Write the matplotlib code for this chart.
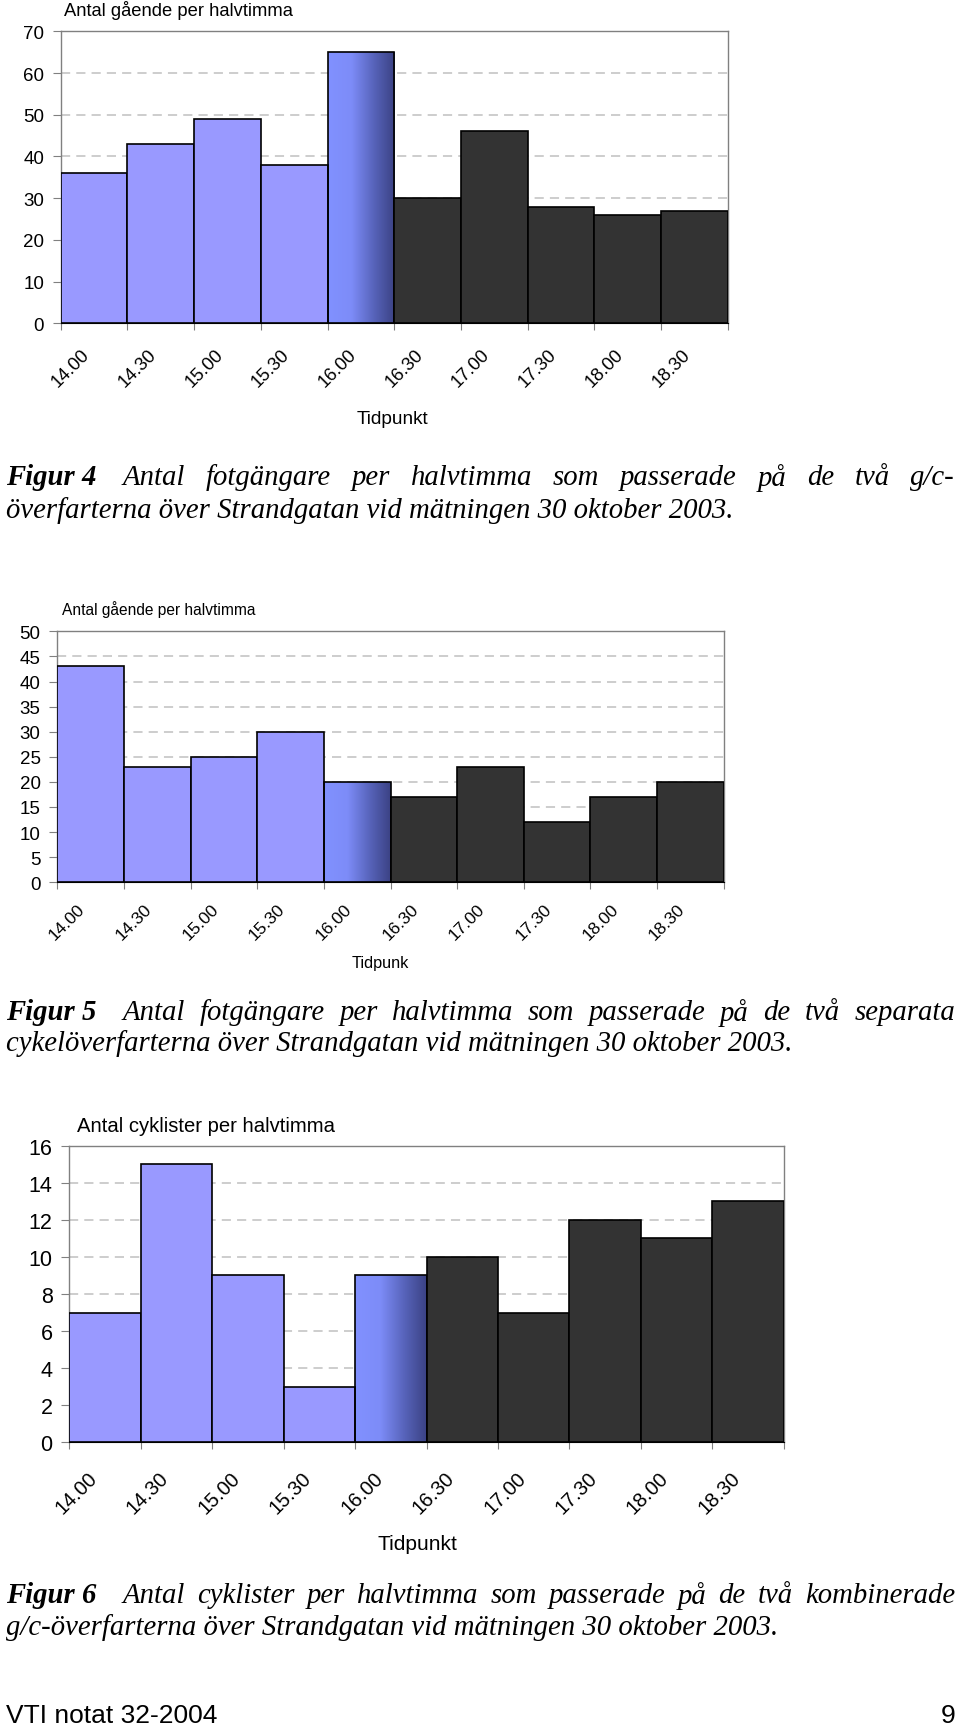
import matplotlib
matplotlib.use("Agg")
import numpy as np
import matplotlib.pyplot as plt
import matplotlib.transforms as mtransforms
from matplotlib.colors import LinearSegmentedColormap

# data
tider = ["14.00", "14.30", "15.00", "15.30", "16.00",
         "16.30", "17.00", "17.30", "18.00", "18.30"]
gc_gaende = [36, 43, 49, 38, 65, 30, 46, 28, 26, 27]
sep_gaende = [43, 23, 25, 30, 20, 17, 23, 12, 17, 20]
cyklister = [7, 15, 9, 3, 9, 10, 7, 12, 11, 13]

W, H = 960, 1731
LJUS = "#9999ff"
MORK = "#333333"
GRA = "#808080"
grad_cmap = LinearSegmentedColormap.from_list(
    "grad", [(0, "#8191ff"), (0.35, "#7d8cf8"), (0.7, "#5662b8"), (1, "#3b4284")])

SANS = "Liberation Sans"
SERIF = "Liberation Serif"

fig = plt.figure(figsize=(W / 100, H / 100), dpi=100)


def box(l, t, r, b):
    return [l / W, 1 - b / H, (r - l) / W, (b - t) / H]


def chart(rect, vals, ymax, ystep, ylab, xlab, fs_tick, fs_lab, fs_x, xpad, xskift,
          lab_pos, xlab_pos):
    ax = fig.add_axes(box(*rect))
    n = len(vals)
    x = np.arange(n)
    farger = [LJUS] * 4 + ["none"] + [MORK] * 5
    bars = ax.bar(x, vals, width=1.0, color=farger, edgecolor="black",
                  linewidth=1.2, zorder=3)
    # gradient bar (16.00)
    p = bars[4]
    grad = np.linspace(0, 1, 200).reshape(1, -1)
    im = ax.imshow(grad, extent=[p.get_x(), p.get_x() + p.get_width(), 0, p.get_height()],
                   aspect="auto", cmap=grad_cmap, zorder=2.5)
    im.set_clip_path(p)
    ax.set_xlim(-0.5, n - 0.5)
    ax.set_ylim(0, ymax)
    ax.set_yticks(np.arange(0, ymax + 0.1, ystep))
    ax.yaxis.grid(True, color="#c0c0c0", linestyle=(0, (6, 4)), linewidth=1.1, zorder=0)
    ax.set_axisbelow(True)
    ax.set_xticks(np.arange(-0.5, n, 1.0))
    ax.set_xticklabels([])
    ax.set_xticks(x, minor=True)
    ax.set_xticklabels(tider, minor=True, rotation=45, ha="right", va="center",
                       rotation_mode="anchor", fontsize=fs_x, family=SANS)
    ax.tick_params(axis="x", which="minor", length=0, pad=xpad)
    skift = mtransforms.ScaledTranslation(-xskift / 100, 0, fig.dpi_scale_trans)
    for lb in ax.get_xticklabels(minor=True):
        lb.set_transform(lb.get_transform() + skift)
    ax.tick_params(axis="x", which="major", length=5, color=GRA, width=0.8)
    ax.tick_params(axis="y", length=6, color=GRA, width=0.8, pad=6, labelsize=fs_tick)
    for lb in ax.get_yticklabels():
        lb.set_family(SANS)
    for s in ["left", "top", "right"]:
        ax.spines[s].set_color(GRA)
        ax.spines[s].set_linewidth(1.0)
    ax.spines["bottom"].set_color("black")
    fig.text(lab_pos[0] / W, 1 - lab_pos[1] / H, ylab, fontsize=fs_lab, family=SANS,
             ha="left", va="center")
    fig.text(xlab_pos[0] / W, 1 - xlab_pos[1] / H, xlab, fontsize=fs_lab + 0.5,
             family=SANS, ha="center", va="center")
    return ax


def caption(y1, y2, head, rad1, rad2, fs=20.7):
    r = fig.canvas.get_renderer()
    x0, tab, x1 = 6, 123, 955
    fig.text(x0 / W, 1 - y1 / H, head, fontsize=fs, family=SERIF, style="italic",
             weight="bold", ha="left", va="center")
    ord_ = rad1.split()
    texter = [fig.text(0, 1 - y1 / H, o, fontsize=fs, family=SERIF, style="italic",
                       ha="left", va="center") for o in ord_]
    bredd = [t.get_window_extent(r).width for t in texter]
    gap = (x1 - tab - sum(bredd)) / (len(ord_) - 1)
    xp = tab
    for t, b in zip(texter, bredd):
        t.set_x(xp / W)
        xp += b + gap
    fig.text(x0 / W, 1 - y2 / H, rad2, fontsize=fs, family=SERIF, style="italic",
             ha="left", va="center")


chart((60.7, 32.3, 727.7, 324.3), gc_gaende, 70, 10,
      "Antal gående per halvtimma", "Tidpunkt", 13.5, 13.2, 13.2, 20, 7,
      (64, 10), (392, 420))
chart((57.3, 632.3, 723.7, 883.3), sep_gaende, 50, 5,
      "Antal gående per halvtimma", "Tidpunk", 13.5, 11.2, 12.5, 17, 8,
      (62, 610), (380, 964))
chart((69.3, 1146.7, 783.7, 1443.3), cyklister, 16, 2,
      "Antal cyklister per halvtimma", "Tidpunkt", 15.5, 14.6, 14.5, 23, 11,
      (77, 1127), (417, 1545))

caption(478, 511, "Figur 4",
        "Antal fotgängare per halvtimma som passerade på de två g/c-",
        "överfarterna över Strandgatan vid mätningen 30 oktober 2003.")
caption(1013, 1044, "Figur 5",
        "Antal fotgängare per halvtimma som passerade på de två separata",
        "cykelöverfarterna över Strandgatan vid mätningen 30 oktober 2003.")
caption(1596, 1628, "Figur 6",
        "Antal cyklister per halvtimma som passerade på de två kombinerade",
        "g/c-överfarterna över Strandgatan vid mätningen 30 oktober 2003.")

fig.text(6 / W, 1 - 1716 / H, "VTI notat 32-2004", fontsize=19, family=SANS,
         ha="left", va="center")
fig.text(955 / W, 1 - 1716 / H, "9", fontsize=19, family=SANS, ha="right", va="center")

fig.savefig("out.png", dpi=100, facecolor="white")
